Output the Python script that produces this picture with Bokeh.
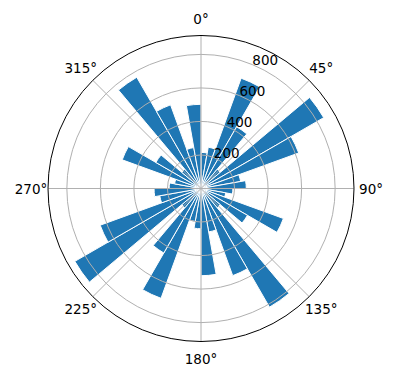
import numpy as np
from bokeh.plotting import figure
from bokeh.models import Range1d
from bokeh.core.properties import value
from bokeh.embed import file_html
from bokeh.resources import INLINE

# Bar centre directions (compass degrees, clockwise from north)
directions = [5, 15, 25, 35, 45, 55, 65, 75, 85, 95, 105, 115,
              125, 135, 145, 155, 165, 175, 185, 195, 205, 215, 225, 235,
              245, 255, 265, 275, 285, 295, 305, 315, 325, 335, 345, 355]
counts = [215, 250, 700, 425, 150, 845, 620, 240, 270, 190, 150, 523,
          320, 150, 817, 553, 263, 520, 240, 200, 697, 444, 150, 869,
          640, 250, 280, 190, 160, 500, 311, 150, 766, 531, 248, 502]
r_ticks = [200, 400, 600, 800]
r_tick_labels = ["200", "400", "600", "800"]
theta_ticks = [0, 45, 90, 135, 180, 225, 270, 315]
theta_tick_labels = ["0°", "45°", "90°", "135°", "180°", "225°", "270°", "315°"]

W, H = 396, 380
cx, cy = 200.5, 188.0   # pixel centre of polar axes
R_px = 153.0
rmax = max(counts) * 1.05
s = rmax / R_px

p = figure(width=W, height=H, output_backend="svg", toolbar_location=None,
           x_range=Range1d(-cx * s, (W - cx) * s),
           y_range=Range1d(-(H - cy) * s, cy * s),
           min_border=0)
p.axis.visible = False
p.grid.visible = False
p.outline_line_color = None
p.background_fill_color = "white"
p.border_fill_color = "white"

d = np.array(directions, dtype=float)
bw = 360.0 / len(directions)
start = np.radians(90 - d - bw / 2)
end = np.radians(90 - d + bw / 2)
p.wedge(x=0, y=0, radius=counts, start_angle=start, end_angle=end,
        radius_units="data", fill_color="#1f77b4", line_color="white",
        line_width=1.0)

# grid
p.circle(x=[0] * len(r_ticks), y=[0] * len(r_ticks), radius=r_ticks,
         fill_color=None, line_color="#b0b0b0", line_width=1.0)
th = np.radians(np.array(theta_ticks, dtype=float))
p.segment(x0=0, y0=0, x1=rmax * np.sin(th), y1=rmax * np.cos(th),
          line_color="#b0b0b0", line_width=1.0)
p.circle(x=[0], y=[0], radius=[rmax], fill_color=None, line_color="black",
         line_width=1.0)

# theta labels
rl = rmax * 170.0 / R_px
p.text(x=rl * np.sin(th), y=rl * np.cos(th), text=theta_tick_labels,
       text_align="center", text_baseline="middle", text_font_size="13.5px",
       text_font=value("DejaVu Sans"), text_color="black")

# radial labels at 22.5 deg
a = np.radians(22.5)
rt = np.array(r_ticks, dtype=float)
p.text(x=rt * np.sin(a), y=rt * np.cos(a), text=r_tick_labels,
       text_align="left", text_baseline="bottom", text_font_size="13.5px",
       text_font=value("DejaVu Sans"), text_color="black")

open("out.html", "w").write(file_html(p, INLINE))
